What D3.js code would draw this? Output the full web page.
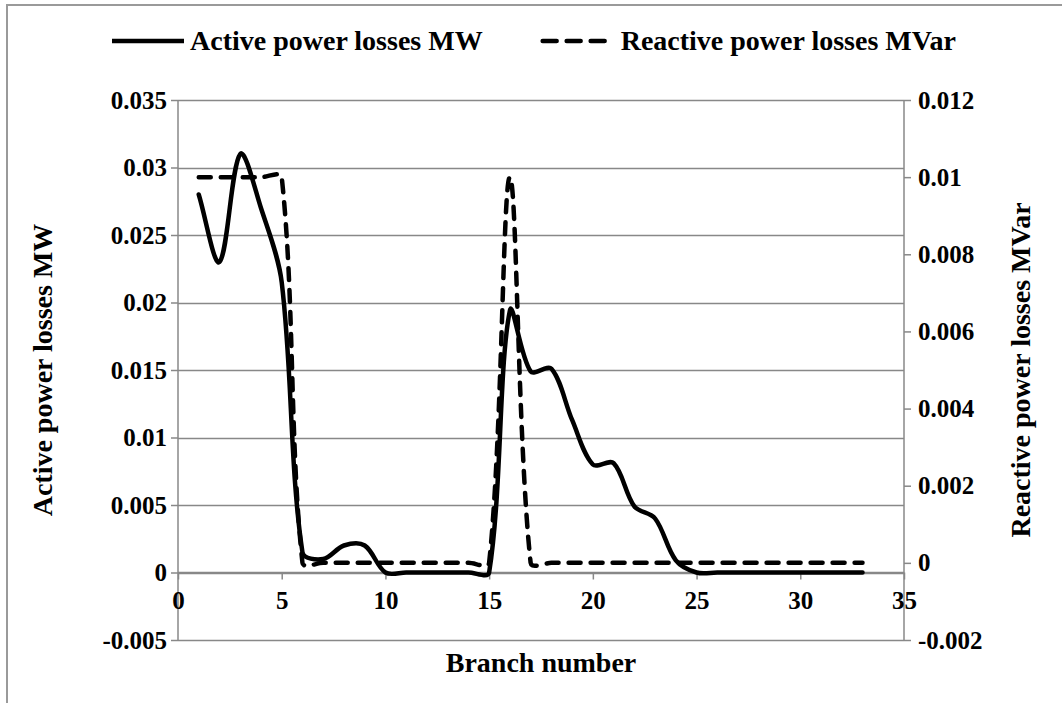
<!DOCTYPE html>
<html>
<head>
<meta charset="utf-8">
<script src="https://cdn.jsdelivr.net/npm/d3@7"></script>
<style>
  html, body { margin: 0; padding: 0; background: #fff; }
  svg { display: block; }
</style>
</head>
<body>
<svg id="chart" width="1062" height="703" font-family="'Liberation Serif', 'Times New Roman', Tinos, serif" font-weight="bold"></svg>
<script>
// ---------------- data ----------------
const branches = [1,2,3,4,5,6,7,8,9,10,11,12,13,14,15,16,17,18,19,20,21,22,23,24,25,26,27,28,29,30,31,32,33];
const activeMW = [0.028,0.023,0.031,0.027,0.0215,0.0015,0.001,0.002,0.002,0,0,0,0,0,0,0.0194,0.0149,0.0151,0.0113,0.008,0.0081,0.0049,0.004,0.0009,0,0,0,0,0,0,0,0,0];
const reactiveMVar = [0.01,0.01,0.01,0.01,0.01,0,0,0,0,0,0,0,0,0,0,0.01,0,0,0,0,0,0,0,0,0,0,0,0,0,0,0,0,0];
const xTicks = [0,5,10,15,20,25,30,35];
const leftTicks = [-0.005,0,0.005,0.01,0.015,0.02,0.025,0.03,0.035];
const leftTickLabels = ["-0.005","0","0.005","0.01","0.015","0.02","0.025","0.03","0.035"];
const rightTicks = [-0.002,0,0.002,0.004,0.006,0.008,0.01,0.012];
const rightTickLabels = ["-0.002","0","0.002","0.004","0.006","0.008","0.01","0.012"];
const seriesNames = ["Active power losses MW","Reactive power losses MVar"];
const xTitle = "Branch number";

// ---------------- spreadsheet-style smoothed curve (length-weighted Bezier) ----------------
function SmoothCurve(context) { this._context = context; }
SmoothCurve.prototype = {
  areaStart() {}, areaEnd() {},
  lineStart() { this._pts = []; },
  point(x, y) { this._pts.push([+x, +y]); },
  lineEnd() {
    const p = this._pts, c = this._context, n = p.length;
    if (!n) return;
    c.moveTo(p[0][0], p[0][1]);
    const dist = (a, b) => Math.hypot(b[0]-a[0], b[1]-a[1]);
    const f = 1/3;
    for (let i = 0; i < n - 1; i++) {
      const p0 = p[Math.max(0, i-1)], p1 = p[i], p2 = p[i+1], p3 = p[Math.min(n-1, i+2)];
      const d01 = dist(p0,p1), d12 = dist(p1,p2), d23 = dist(p2,p3);
      const s1 = (d01 + d12) > 0 ? f * d12 / (d01 + d12) : 0;
      const s2 = (d12 + d23) > 0 ? f * d12 / (d12 + d23) : 0;
      const c1 = [p1[0] + (p2[0]-p0[0])*s1, p1[1] + (p2[1]-p0[1])*s1];
      const c2 = [p2[0] - (p3[0]-p1[0])*s2, p2[1] - (p3[1]-p1[1])*s2];
      c.bezierCurveTo(c1[0], c1[1], c2[0], c2[1], p2[0], p2[1]);
    }
  }
};
const curveSmooth = ctx => new SmoothCurve(ctx);

// ---------------- layout ----------------
const FONT = "'Liberation Serif', 'Times New Roman', Tinos, serif";
const svg = d3.select("#chart");
const L = 178, R = 904, T = 100, B = 640;
const gridColor = "#888888";
const tickFont = 25;
const titleSize = 28;
const legendSize = 28;

const x = d3.scaleLinear().domain([0,35]).range([L,R]);
const yL = d3.scaleLinear().domain([-0.005,0.035]).range([B,T]);
const yR = d3.scaleLinear().domain([-0.002,0.012]).range([B,T]);

// outer border
svg.append("rect").attr("x",7).attr("y",5).attr("width",1200).attr("height",1200)
  .attr("fill","none").attr("stroke","#9a9a9a").attr("stroke-width",2);

// gridlines
svg.append("g").selectAll("line").data(leftTicks).join("line")
  .attr("x1",L).attr("x2",R)
  .attr("y1",d=>Math.round(yL(d))+0.5).attr("y2",d=>Math.round(yL(d))+0.5)
  .attr("stroke",gridColor).attr("stroke-width",1.5);

// left axis
const leftAxis = d3.axisLeft(yL).tickValues(leftTicks).tickSize(7)
  .tickFormat((d,i)=>leftTickLabels[i]).tickPadding(4);
const gL = svg.append("g").attr("transform",`translate(${L},0)`).call(leftAxis);

// right axis
const rightAxis = d3.axisRight(yR).tickValues(rightTicks).tickSize(7)
  .tickFormat((d,i)=>rightTickLabels[i]).tickPadding(7);
const gR = svg.append("g").attr("transform",`translate(${R},0)`).call(rightAxis);

// x axis at zero of left axis
const xAxis = d3.axisBottom(x).tickValues(xTicks).tickSize(7).tickPadding(12);
const gX = svg.append("g").attr("transform",`translate(0,${yL(0)})`).call(xAxis);

[gL,gR,gX].forEach(g=>{
  g.attr("font-family",FONT).attr("font-weight","bold").attr("font-size",tickFont);
  g.select(".domain").attr("stroke",gridColor).attr("stroke-width",1.5);
  g.selectAll(".tick line").attr("stroke",gridColor).attr("stroke-width",1.5);
  g.selectAll(".tick text").attr("fill","#000");
});
gL.select(".domain").attr("d",`M0,${T}V${B}`);
gR.select(".domain").attr("d",`M0,${T}V${B}`);
gX.select(".domain").attr("d",`M${L},0H${R}`);
gX.selectAll(".tick text").attr("dy","0.71em");

// series
const lineActive = d3.line().x((d,i)=>x(branches[i])).y(d=>yL(d)).curve(curveSmooth);
const lineReactive = d3.line().x((d,i)=>x(branches[i])).y(d=>yR(d)).curve(curveSmooth);

svg.append("path").datum(reactiveMVar).attr("d",lineReactive)
  .attr("fill","none").attr("stroke","#000").attr("stroke-width",4.5)
  .attr("stroke-dasharray","12,10").attr("stroke-linecap","round").attr("stroke-linejoin","round");
svg.append("path").datum(activeMW).attr("d",lineActive)
  .attr("fill","none").attr("stroke","#000").attr("stroke-width",4.5)
  .attr("stroke-linecap","round").attr("stroke-linejoin","round");

// axis titles
svg.append("text").attr("transform",`translate(52,${(T+B)/2}) rotate(-90)`)
  .attr("text-anchor","middle").attr("font-size",titleSize).text(seriesNames[0]);
svg.append("text").attr("transform",`translate(1030,${(T+B)/2}) rotate(-90)`)
  .attr("text-anchor","middle").attr("font-size",titleSize).text(seriesNames[1]);
svg.append("text").attr("x",(L+R)/2).attr("y",672)
  .attr("text-anchor","middle").attr("font-size",titleSize).text(xTitle);

// legend
const legY = 41;
const leg = svg.append("g");
let cx = 112;
leg.append("line").attr("x1",cx).attr("x2",cx+72).attr("y1",legY).attr("y2",legY)
  .attr("stroke","#000").attr("stroke-width",4.5);
cx += 78;
const t1 = leg.append("text").attr("x",cx).attr("y",legY+9).attr("font-size",legendSize).text(seriesNames[0]);
cx += t1.node().getComputedTextLength() + 58;
leg.append("line").attr("x1",cx+2).attr("x2",cx+70).attr("y1",legY).attr("y2",legY)
  .attr("stroke","#000").attr("stroke-width",4.5).attr("stroke-dasharray","14,10").attr("stroke-linecap","round");
cx += 80;
leg.append("text").attr("x",cx).attr("y",legY+9).attr("font-size",legendSize).text(seriesNames[1]);
</script>
</body>
</html>
